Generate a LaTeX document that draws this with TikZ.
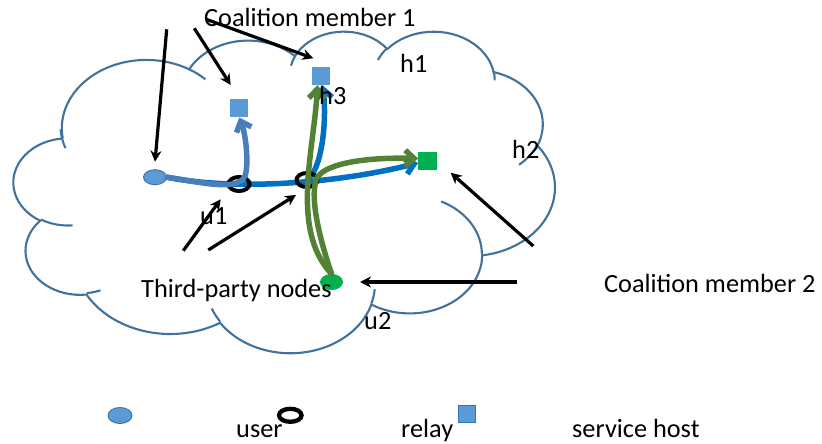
\documentclass[tikz,border=0pt]{standalone}
\usepackage{fontspec}
\setmainfont{Carlito}
\usetikzlibrary{shapes.geometric,arrows.meta,calc}
\pgfdeclarelayer{back}
\pgfsetlayers{back,main}
\definecolor{cloudblue}{HTML}{41719C}
\definecolor{nodeblue}{HTML}{5B9BD5}
\definecolor{nodeedge}{HTML}{41719C}
\definecolor{linkblue}{HTML}{0070C0}
\definecolor{steellink}{HTML}{4A7EBB}
\definecolor{flowgreen}{HTML}{548235}
\definecolor{hostgreen}{HTML}{00B050}
\definecolor{sqedge}{HTML}{2E75B6}
\tikzset{
  % elliptic arc given as radii plus start/sweep angles measured on the ellipse
  oarc/.code args={#1/#2/#3/#4}{%
    \pgfmathsetmacro\oarcS{atan2((#1)*sin(#3),(#2)*cos(#3))}%
    \pgfmathsetmacro\oarcT{atan2((#1)*sin((#3)+(#4)),(#2)*cos((#3)+(#4)))}%
    \pgfmathsetmacro\oarcE{\oarcS+mod(\oarcT-\oarcS+720,360)}%
    \edef\oarcDo{\noexpand\pgfkeysalso{start angle=\oarcS,end angle=\oarcE,x radius=#1,y radius=#2}}%
    \oarcDo},
  cloudline/.style={draw=cloudblue, line width=2.1pt},
  lbl/.style={font=\fontsize{26.3}{30}\selectfont, inner sep=0pt, anchor=base west},
  bluedot/.style={ellipse, fill=nodeblue, draw=nodeedge, line width=0.9pt,
    minimum width=23pt, minimum height=15pt, inner sep=0pt},
  ring/.style={ellipse, draw=black, line width=4pt,
    minimum width=21pt, minimum height=14pt, inner sep=0pt},
  bluesq/.style={rectangle, fill=nodeblue, minimum size=18pt, inner sep=0pt},
  greensq/.style={rectangle, fill=hostgreen, minimum size=18.3pt, inner sep=0pt},
  greendot/.style={ellipse, fill=hostgreen, minimum width=23pt, minimum height=16pt, inner sep=0pt},
  pointer/.style={draw=black, line width=3.2pt, -{Stealth[length=11pt,width=11pt]}},
  flow/.style={line width=5.5pt, line cap=round, -{Straight Barb[length=9pt,width=16pt]}},
}
\begin{document}
\begin{tikzpicture}[x=1pt,y=-1pt]
\useasboundingbox (0,0) rectangle (822,444);

% cloud outline and the short inner arcs
\begin{scope}[shift={(13.75,30.6)}, x=1.2523pt, y=-0.74417pt]
  \draw[cloudline] (39,143.70)
    arc[oarc=67.53/91.90/-190.48748/123.78053]
    arc[oarc=53.33/72.67/-144.10238/89.94523]
    arc[oarc=43.65/59.45/-145.80792/99.72302]
    arc[oarc=48.57/65.95/-130.98607/117.24173]
    arc[oarc=53.33/72.73/-78.70888/109.02692]
    arc[oarc=67.75/92.20/-46.26725/130.269]
    arc[oarc=57.85/78.67/0.62502/114.03333]
    arc[oarc=67.52/92.15/22.4516/115.17255]
    arc[oarc=77.20/105.43/66.24263/75.71102]
    arc[oarc=43.60/59.18/-274.94208/146.73557]
    arc[oarc=43.45/59.45/-246.8285/152.51885] -- cycle;
  \draw[cloudline]
    (46.93,261.77) arc[oarc=43.45/59.45/86.742/26.4295]
    (69.28,348.99) arc[oarc=43.60/59.18/73.61047/11.44747]
    (164.78,390.90) arc[oarc=67.52/92.15/137.62415/14.0811]
    (288.27,347.51) arc[oarc=67.52/92.15/6.45327/15.99835]
    (341.29,229.54) arc[oarc=57.85/78.67/-70.29235/70.91737]
    (417.98,153.54) arc[oarc=53.33/72.73/30.31803/27.7515]
    (383.24,54.26) arc[oarc=48.57/65.95/-13.74433/14.8589]
    (290.78,39.52) arc[oarc=48.57/65.95/-149.18145/18.19537]
    (221.41,47.20) arc[oarc=43.65/59.45/-163.49427/17.83595]
    (140.00,51.92) arc[oarc=67.53/91.90/-66.70695/12.31935]
    (41.27,157.89) arc[oarc=67.53/91.90/153.66935/21.00908];
\end{scope}

% network nodes
\node[bluedot] (src) at (155,177.2) {};
\node[ring] (r1) at (239,184) {};
\node[ring] (r2) at (307,180) {};
\node[bluesq] (rsq) at (239.2,108.3) {};
\node[bluesq] (hsq) at (321,76) {};
\node[greensq] (gsq) at (427.5,161) {};
\node[greendot] (gdot) at (331.5,282) {};

% blue routes (kept beneath the relay rings)
\begin{pgfonlayer}{back}
  \draw[flow, draw=linkblue] (src.east) .. controls (230,190) and (330,185) .. ($(gsq.west)+(0,2)$);
  \draw[flow, draw=linkblue] (r2.center) .. controls (322,170) and (327,120) .. ($(hsq.south)+(1.5,0)$);
\end{pgfonlayer}

% route through the first relay
\draw[flow, draw=steellink] (src.east) .. controls (200,182) and (238,192) .. (245,176)
  .. controls (249,165) and (246,135) .. (rsq.south);

% green routes from the second user
\draw[flow, draw=flowgreen] (gdot.north) .. controls (290,230) and (314,150) .. ($(hsq.south)+(-3.5,0)$);
\draw[flow, draw=flowgreen] (gdot.north) .. controls (320,240) and (310,200) .. (316,180)
  .. controls (321,165) and (360,157) .. ($(gsq.west)+(0,-2.5)$);

% pointers
\coordinate (a1s) at (166.7,29.3);  \coordinate (a1e) at (155,161.7);
\coordinate (a2s) at (194.3,28.3);  \coordinate (a2e) at (230.7,85);
\coordinate (a3s) at (206.7,19.5);  \coordinate (a3e) at (313.3,58.3);
\coordinate (a4s) at (533.3,246);   \coordinate (a4e) at (450.7,172.7);
\coordinate (a5s) at (517.3,282);   \coordinate (a5e) at (360,282);
\coordinate (a6s) at (183.3,250.7); \coordinate (a6e) at (220.7,199.3);
\coordinate (a7s) at (208.3,250);   \coordinate (a7e) at (296,195);
\foreach \i in {1,...,7} { \draw[pointer] (a\i s) -- (a\i e); }

% labels
\node[lbl] (cm1) at (204,27) {Coalition member 1};
\node[lbl] (h1t) at (400,73) {h1};
\node[lbl] (h3t) at (319,104) {h3};
\node[lbl] (h2t) at (512,158.3) {h2};
\node[lbl] (u1t) at (200,224) {u1};
\node[lbl] (tpn) at (141,297) {Third-party nodes};
\node[lbl] (u2t) at (364,329) {u2};
\node[lbl] (cm2) at (604,292.5) {Coalition member 2};

% legend
\node[bluedot, minimum width=24pt, minimum height=16pt] (lg1) at (120,415.5) {};
\node[ring, line width=4.3pt, minimum width=22.5pt, minimum height=13pt] (lg2) at (290.3,415.3) {};
\node[bluesq, draw=sqedge, line width=1pt, minimum size=17pt] (lg3) at (467,414) {};
\node[lbl] (lgu) at (236,437) {user};
\node[lbl] (lgr) at (401,437) {relay};
\node[lbl] (lgs) at (572,437.5) {service host};
\end{tikzpicture}
\end{document}
